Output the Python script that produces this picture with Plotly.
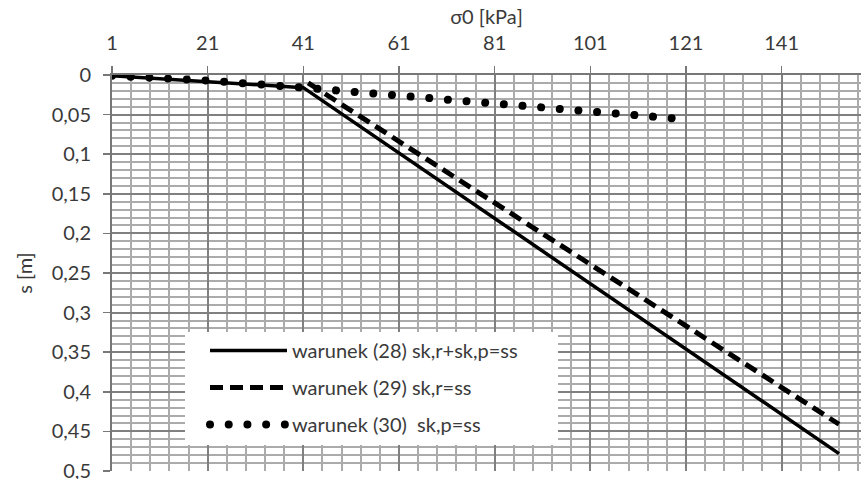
import plotly.graph_objects as go

# --- data ---
# x: sigma0 [kPa] category index, y: settlement s [m]
solid_x = [1, 41, 153]
solid_y = [0.001, 0.016, 0.478]

dashed_x = [42, 153]
dashed_y = [0.010, 0.441]

dotted_x = [1, 21, 41, 45, 61, 81, 101, 111, 119]
dotted_y = [0.001, 0.007, 0.016, 0.018, 0.026, 0.0345, 0.044, 0.050, 0.055]

series_names = [
    "warunek (28) sk,r+sk,p=ss",
    "warunek (29) sk,r=ss",
    "warunek (30)  sk,p=ss",
]

x_tickvals = [1, 21, 41, 61, 81, 101, 121, 141]
x_ticktext = ["1", "21", "41", "61", "81", "101", "121", "141"]
y_tickvals = [0, 0.05, 0.1, 0.15, 0.2, 0.25, 0.3, 0.35, 0.4, 0.45, 0.5]
y_ticktext = ["0", "0,05", "0,1", "0,15", "0,2", "0,25", "0,3", "0,35", "0,4", "0,45", "0,5"]

FONT = "Lato, 'Open Sans', sans-serif"
TXT = "#3a3a3a"
FS = 20

W, H = 861, 479
L, T, R, B = 112, 75, 0, 8
PW, PH = W - L - R, H - T - B


def px_x(px):
    return (px - L) / PW


def px_y(py):
    return (H - B - py) / PH


fig = go.Figure()
fig.add_trace(go.Scatter(
    x=solid_x, y=solid_y, mode="lines", name=series_names[0],
    line=dict(color="black", width=3.5), legendgroup="a"))
fig.add_trace(go.Scatter(
    x=dashed_x, y=dashed_y, mode="lines", name=series_names[1],
    line=dict(color="black", width=5, dash="13px,7px"), legendgroup="b"))
fig.add_trace(go.Scatter(
    x=dotted_x, y=dotted_y, mode="lines", name=series_names[2],
    line=dict(color="black", width=7, dash="7px,11.7px"), legendgroup="c"))

# white legend panel (covers the grid; legend is drawn above it)
fig.add_shape(type="rect", xref="paper", yref="paper",
              x0=px_x(185), x1=px_x(558), y0=px_y(445), y1=px_y(332),
              fillcolor="white", line=dict(width=0), layer="above")

fig.update_layout(
    width=W, height=H,
    margin=dict(l=L, r=R, t=T, b=B),
    paper_bgcolor="white", plot_bgcolor="white",
    font=dict(family=FONT, size=FS, color=TXT),
    showlegend=True,
    legend=dict(
        x=px_x(205), y=px_y(331), xanchor="left", yanchor="top",
        bgcolor="rgba(0,0,0,0)", borderwidth=0, itemwidth=77,
        tracegroupgap=8, font=dict(size=FS, color=TXT),
    ),
    xaxis=dict(
        side="top", range=[1, 157.6], automargin=False,
        tickmode="array", tickvals=x_tickvals, ticktext=x_ticktext,
        ticks="outside", ticklen=7, tickcolor="#777", tickwidth=1.5,
        ticklabelstandoff=8,
        showline=True, linecolor="#777", linewidth=2,
        showgrid=True, gridcolor="#808080", gridwidth=2,
        minor=dict(dtick=4, tick0=1, showgrid=True, gridcolor="#ababab", gridwidth=2, ticks=""),
        zeroline=False,
        title=dict(text="σ0 [kPa]", font=dict(size=FS, color=TXT), standoff=0),
        tickfont=dict(size=FS, color=TXT),
    ),
    yaxis=dict(
        range=[0.5, 0], automargin=False,
        tickmode="array", tickvals=y_tickvals, ticktext=y_ticktext,
        ticks="outside", ticklen=7, tickcolor="#777", tickwidth=1.5,
        ticklabelstandoff=8, ticklabeloverflow="allow",
        showline=True, linecolor="#777", linewidth=2,
        showgrid=True, gridcolor="#808080", gridwidth=2,
        minor=dict(dtick=0.01, tick0=0, showgrid=True, gridcolor="#ababab", gridwidth=2, ticks=""),
        zeroline=False,
        title=dict(text="s [m]", font=dict(size=FS, color=TXT), standoff=14),
        tickfont=dict(size=FS, color=TXT),
    ),
)

# remove the default page margin and make the dotted series use round dots
post = """
document.body.style.margin = '0';
document.body.style.overflow = 'hidden';
var gd = document.getElementById('{plot_id}');
function roundDots(root) {
  if (!root) return;
  root.querySelectorAll('path.js-line').forEach(function (p) {
    p.style.strokeLinecap = 'round';
    p.style.strokeDasharray = '0.01px,18.7px';
    p.style.strokeWidth = '8px';
  });
}
var tr = gd.querySelectorAll('.scatterlayer .trace');
roundDots(tr[2]);
var lg = gd.querySelectorAll('.legend .traces');
roundDots(lg[2]);
"""

fig.write_html("out.html", post_script=post,
               config={"displayModeBar": False, "staticPlot": True})
